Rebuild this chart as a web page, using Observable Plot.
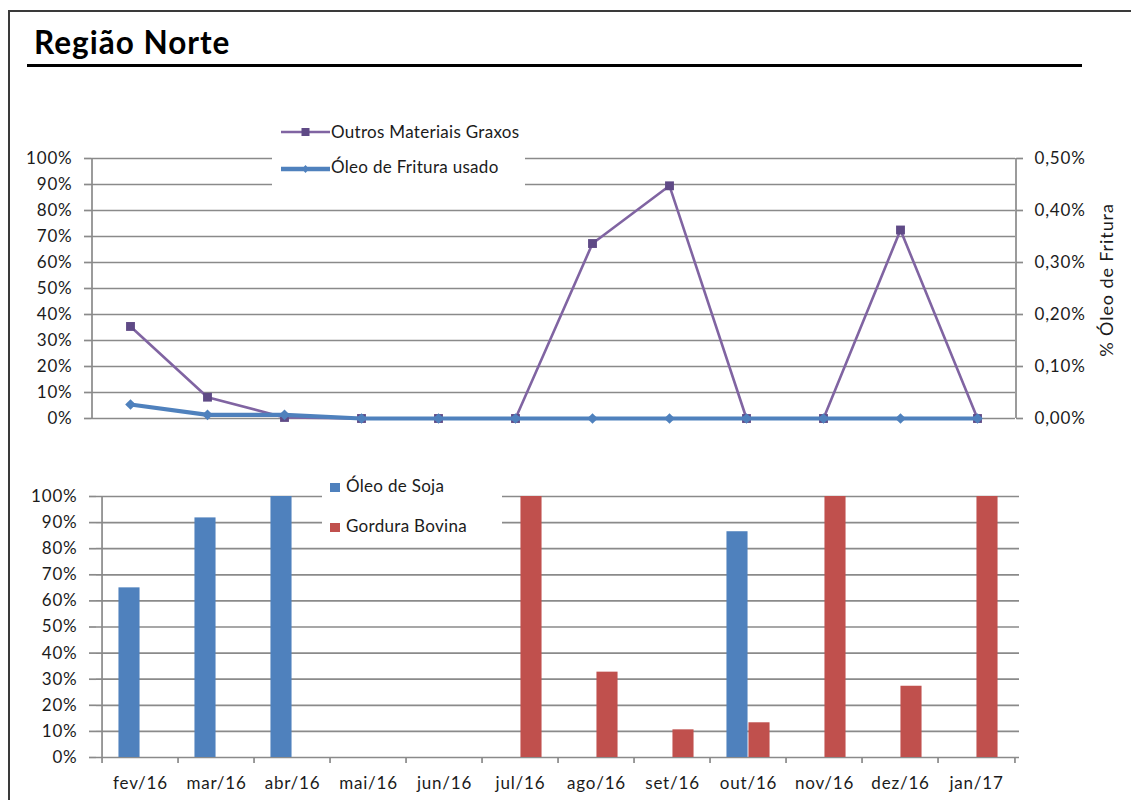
<!DOCTYPE html>
<html>
<head>
<meta charset="utf-8">
<script src="https://cdn.jsdelivr.net/npm/d3@7"></script>
<script src="https://cdn.jsdelivr.net/npm/@observablehq/plot@0.6"></script>
<style>
  body { margin: 0; background: #fff; font-family: Lato, "Open Sans", sans-serif; color: #1b1b1b; }
  #page { position: relative; width: 1131px; height: 800px; overflow: hidden; background: #fff; }
  .abs { position: absolute; }
  #frameTop { left: 8px; top: 10px; width: 1123px; height: 2px; background: #3a3a3a; }
  #frameLeft { left: 8px; top: 10px; width: 2px; height: 790px; background: #3a3a3a; }
  #title { left: 34px; top: 27px; font-size: 31.5px; font-weight: 700; line-height: 1; letter-spacing: 1px; color: #000; white-space: nowrap; }
  #underline { left: 27px; top: 64px; width: 1055px; height: 3px; background: #000; }
  #topChart { left: 0; top: 100px; }
  #bottomChart { left: 0; top: 460px; }
  .legbox { background: #fff; }
  .legtext { font-size: 17px; letter-spacing: 0.3px; line-height: 20px; white-space: nowrap; color: #1b1b1b; }
  #ylab2 { left: 1106px; top: 280px; font-size: 18px; letter-spacing: 0.9px; white-space: nowrap; transform: translate(-50%, -50%) rotate(-90deg); line-height: 20px; }
</style>
</head>
<body>
<div id="page">
  <div id="frameTop" class="abs"></div>
  <div id="frameLeft" class="abs"></div>
  <div id="title" class="abs">Região Norte</div>
  <div id="underline" class="abs"></div>
  <div id="topChart" class="abs"></div>
  <div id="bottomChart" class="abs"></div>

  <!-- top legend -->
  <div class="abs legbox" style="left:272px; top:116px; width:253px; height:76px;"></div>
  <svg class="abs" style="left:281px; top:122px;" width="50" height="20">
    <line x1="0" y1="10" x2="49" y2="10" stroke="#8064A2" stroke-width="2.5"/>
    <rect x="20.5" y="6" width="8" height="8" fill="#5F4A86"/>
  </svg>
  <div class="abs legtext" style="left:331px; top:122px;">Outros Materiais Graxos</div>
  <svg class="abs" style="left:281px; top:159px;" width="50" height="20">
    <line x1="0" y1="10" x2="49" y2="10" stroke="#4F81BD" stroke-width="4.5"/>
    <path d="M24.5,6 L28,10 L24.5,14 L21,10 Z" fill="#4F81BD"/>
  </svg>
  <div class="abs legtext" style="left:331px; top:157px;">Óleo de Fritura usado</div>

  <!-- bottom legend -->
  <div class="abs legbox" style="left:322px; top:470px; width:180px; height:66px;"></div>
  <div class="abs" style="left:330px; top:483px; width:10px; height:9px; background:#4F81BD;"></div>
  <div class="abs legtext" style="left:346px; top:476px;">Óleo de Soja</div>
  <div class="abs" style="left:330px; top:523px; width:10px; height:9px; background:#C0504D;"></div>
  <div class="abs legtext" style="left:346px; top:516px;">Gordura Bovina</div>

  <div id="ylab2" class="abs">% Óleo de Fritura</div>
</div>
<script>
// ---- data ----
const months = ["fev/16", "mar/16", "abr/16", "mai/16", "jun/16", "jul/16", "ago/16", "set/16", "out/16", "nov/16", "dez/16", "jan/17"];
// Outros Materiais Graxos (%; left axis)
const outros = [35.4, 8.2, 0.4, 0, 0, 0, 67.3, 89.5, 0, 0, 72.5, 0];
// Óleo de Fritura usado (%; right axis)
const fritura = [0.027, 0.007, 0.007, 0, 0, 0, 0, 0, 0, 0, 0, 0];
// bottom chart (%)
const soja = [65, 91.8, 100, 0, 0, 0, 0, 0, 86.5, 0, 0, 0];
const gordura = [0, 0, 0, 0, 0, 100, 32.7, 10.6, 13.3, 100, 27.3, 100];
// tick values
const leftTicks = [0, 10, 20, 30, 40, 50, 60, 70, 80, 90, 100];
const rightTicks = [0, 0.1, 0.2, 0.3, 0.4, 0.5];

const gridColor = "#8a8a8a";
const textStyle = { fontFamily: "Lato, 'Open Sans', sans-serif", fontSize: "17px", color: "#1b1b1b", letterSpacing: "0.8px", background: "transparent", overflow: "visible" };

// ---- top chart ----
const W = 1131;
const topM = { left: 91, right: 116, top: 58, bottom: 22 };
const topStep = (W - topM.left - topM.right) / months.length;
const k = 100 / rightTicks[rightTicks.length - 1];
const topRows = months.map((m, i) => ({ m, outros: outros[i], fritura: fritura[i] }));

const topPlot = Plot.plot({
  width: W, height: 340,
  marginLeft: topM.left, marginRight: topM.right, marginTop: topM.top, marginBottom: topM.bottom,
  style: textStyle,
  x: { type: "point", domain: months, padding: 0.5, axis: null },
  y: { domain: [0, 100], axis: null },
  marks: [
    Plot.gridY(leftTicks, { stroke: gridColor, strokeOpacity: 1, strokeWidth: 1.7 }),
    Plot.axisY({ ticks: leftTicks, tickFormat: d => d + "%", tickSize: 7, tickPadding: 12, stroke: gridColor, strokeWidth: 1.7, label: null }),
    Plot.axisY({ anchor: "right", ticks: rightTicks.map(t => t * k), tickFormat: v => d3.format(".2f")(v / k).replace(".", ",") + "%", tickSize: 7, tickPadding: 12, stroke: gridColor, strokeWidth: 1.7, label: null }),
    Plot.ruleX([months[0]], { dx: -topStep / 2, y1: 0, y2: 100, stroke: gridColor, strokeWidth: 1.7 }),
    Plot.ruleX([months[months.length - 1]], { dx: topStep / 2, y1: 0, y2: 100, stroke: gridColor, strokeWidth: 1.7 }),
    Plot.lineY(topRows, { x: "m", y: "outros", stroke: "#8064A2", strokeWidth: 2.6 }),
    Plot.dot(topRows, { x: "m", y: "outros", symbol: "square", r: 5, fill: "#5F4A86", stroke: "none" }),
    Plot.lineY(topRows, { x: "m", y: d => d.fritura * k, stroke: "#4F81BD", strokeWidth: 4.2 }),
    Plot.dot(topRows, { x: "m", y: d => d.fritura * k, symbol: "diamond2", r: 4.8, fill: "#4F81BD", stroke: "none" })
  ]
});
document.getElementById("topChart").appendChild(topPlot);

// ---- bottom chart ----
const botM = { left: 96, right: 112, top: 36, bottom: 43 };
const bw = (W - botM.left - botM.right) / months.length;
const botRows = months.map((m, i) => ({ m, soja: soja[i], gordura: gordura[i] }));
const barW = 22;

const botPlot = Plot.plot({
  width: W, height: 340,
  marginLeft: botM.left, marginRight: botM.right, marginTop: botM.top, marginBottom: botM.bottom,
  style: textStyle,
  x: { type: "band", domain: months, padding: 0, axis: null },
  y: { domain: [0, 100], axis: null },
  marks: [
    Plot.gridY(leftTicks, { stroke: gridColor, strokeOpacity: 1, strokeWidth: 1.7 }),
    Plot.axisY({ ticks: leftTicks, tickFormat: d => d + "%", tickSize: 7, tickPadding: 12, stroke: gridColor, strokeWidth: 1.7, label: null }),
    Plot.axisX({ tickSize: 0, tickPadding: 19, label: null }),
    Plot.ruleX([months[0]], { dx: -bw / 2, y1: 0, y2: 100, stroke: gridColor, strokeWidth: 1.7 }),
    Plot.ruleX(months, { dx: -bw / 2, y1: 0, y2: 0, insetBottom: -6, stroke: gridColor, strokeWidth: 1.7 }),
    Plot.ruleX([months[months.length - 1]], { dx: bw / 2, y1: 0, y2: 0, insetBottom: -6, stroke: gridColor, strokeWidth: 1.7 }),
    Plot.barY(botRows, { filter: d => d.soja > 0, x: "m", y: "soja", fill: "#4F81BD", insetLeft: bw / 2 - barW, insetRight: bw / 2 }),
    Plot.barY(botRows, { filter: d => d.gordura > 0, x: "m", y: "gordura", fill: "#C0504D", insetLeft: bw / 2, insetRight: bw / 2 - barW })
  ]
});
document.getElementById("bottomChart").appendChild(botPlot);
</script>
</body>
</html>
